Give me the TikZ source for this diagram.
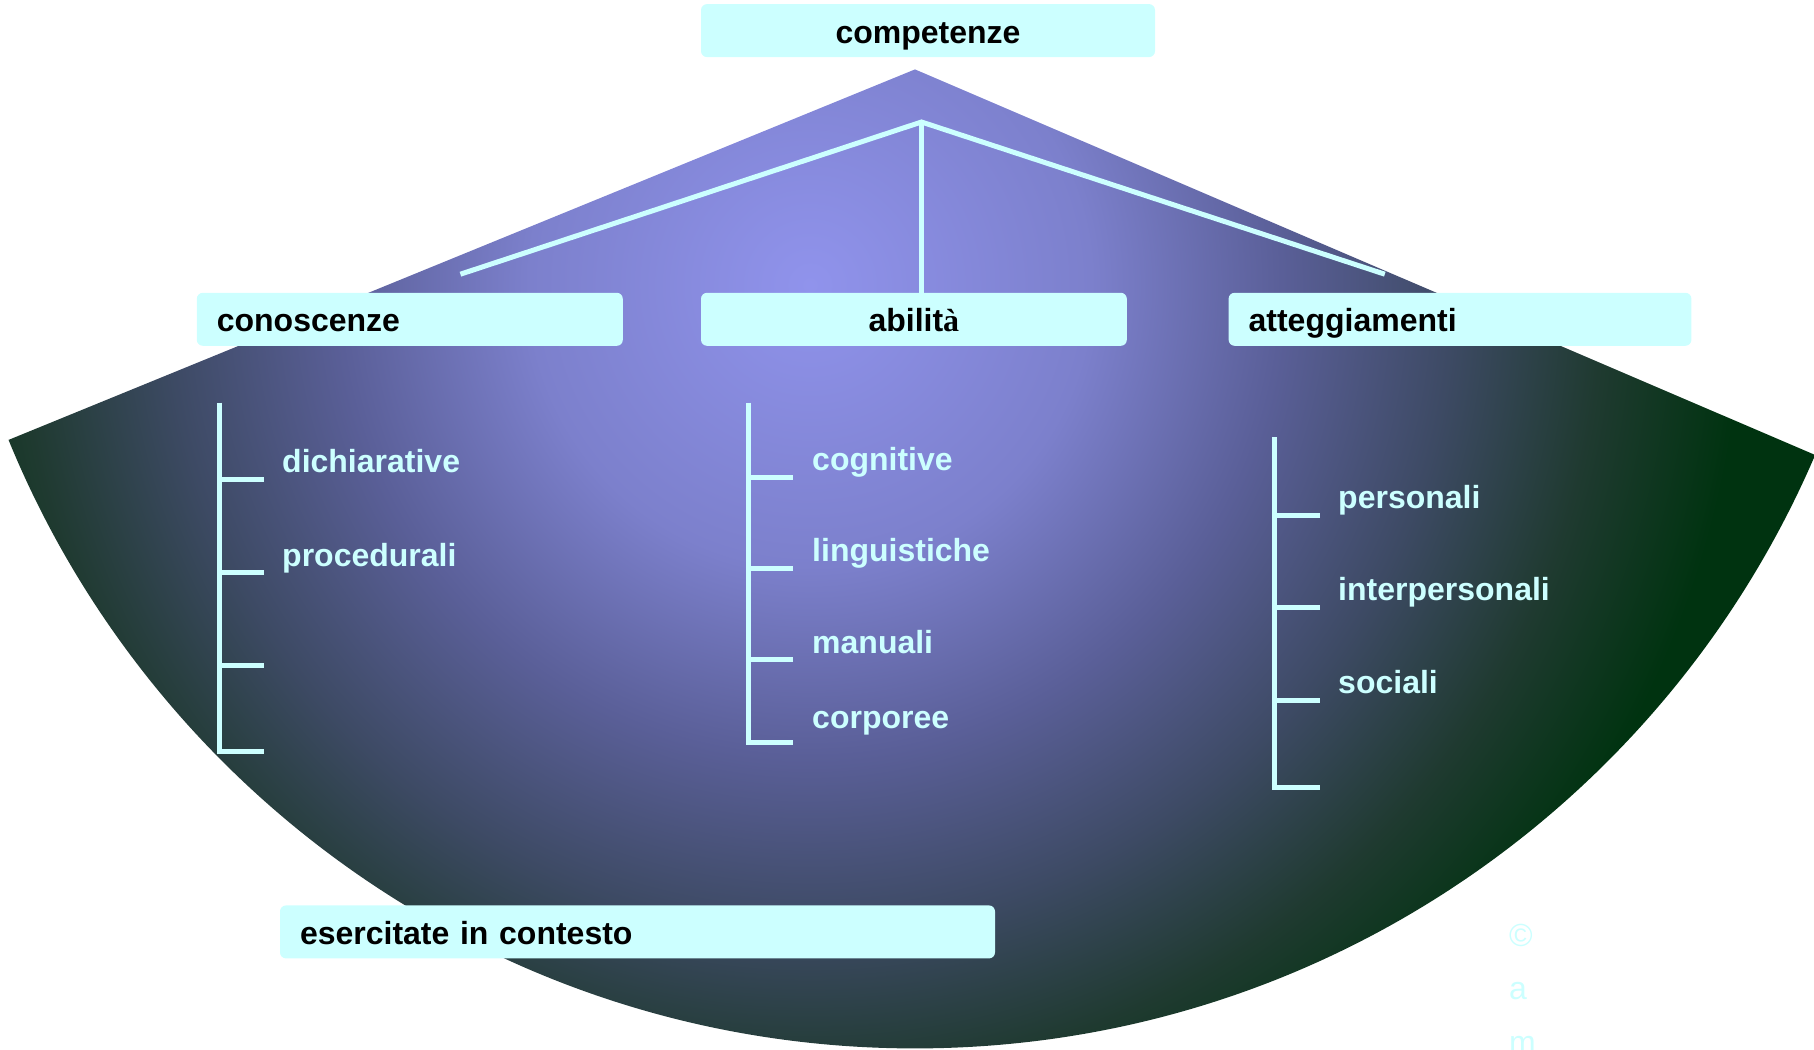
\documentclass[tikz,border=0pt]{standalone}
\usepackage{fontspec}
\setmainfont{Liberation Sans}
\newfontfamily\serifacc{Liberation Serif}
\definecolor{boxc}{HTML}{CCFFFF}
\definecolor{linec}{HTML}{CCFFFF}
\definecolor{fcA}{HTML}{9093EC}
\definecolor{fcB}{HTML}{7C80CC}
\definecolor{fcC}{HTML}{5A5F98}
\definecolor{fcD}{HTML}{3D4A64}
\definecolor{fcE}{HTML}{1F3A30}
\definecolor{fcF}{HTML}{003310}
\pgfdeclareradialshading{fanshade}{\pgfpoint{0bp}{0bp}}{%
  color(0bp)=(fcA); color(280bp)=(fcB); color(470bp)=(fcC);
  color(640bp)=(fcD); color(790bp)=(fcE); color(930bp)=(fcF); color(1200bp)=(fcF)}
\begin{document}
\begin{tikzpicture}[x=1pt,y=-1pt,
  boxs/.style={fill=boxc, rounded corners=6pt, minimum height=53pt, inner ysep=0pt,
    text height=25pt, text depth=0pt, text=black,
    font=\bfseries\fontsize{32}{38}\selectfont},
  boxl/.style={boxs, align=left, inner xsep=20pt, text width=#1},
  lbl/.style={anchor=base west, inner sep=0pt, text=linec,
    font=\bfseries\fontsize{32}{38}\selectfont},
  cpy/.style={anchor=base west, inner sep=0pt, text=linec,
    font=\fontsize{32}{38}\selectfont},
  branch/.style={draw=linec, line width=5pt},
]
\useasboundingbox (0,0) rectangle (1814,1049);

% fan-shaped background (circular sector centred on the apex)
\coordinate (apex) at (915,69.4);
\begin{scope}
  \clip (apex) -- (-896.4,809.8) -- (-896.4,2100) -- (2708.4,2100) -- (2708.4,837.6) -- cycle;
  \clip (apex) circle (979);
  \pgftext[at=\pgfpoint{810pt}{-285pt}]{\pgfuseshading{fanshade}}
\end{scope}

% boxes
\node[boxs, minimum width=454pt] (comp) at (928,30.6) {competenze};
\node[boxl=386pt, minimum width=426pt] (cono) at (409.8,319.3) {conoscenze};
\node[boxs, minimum width=425.8pt] (abil) at (913.9,319.3) {abilit{\serifacc\bfseries à}};
\node[boxl=422.8pt, minimum width=462.8pt] (atte) at (1460,319.3) {atteggiamenti};
\node[boxl=675pt, minimum width=715pt] (eser) at (637.5,931.9) {esercitate in contesto};

% connectors from the hub
\coordinate (hub) at (921.5,122);
\coordinate (lend) at (460.4,274.2);
\coordinate (rend) at (1384.8,274.2);
\draw[branch] (lend) -- (hub) -- (rend);
\draw[branch] (hub) -- (hub |- abil.north);

% conoscenze column
\draw[branch] (219,402.6) -- (219,751) -- (264.3,751);
\foreach \y in {479.3,572.3,665} \draw[branch] (219,\y) -- (264.3,\y);
\node[lbl] (dich) at (282,472.7) {dichiarative};
\node[lbl] (proc) at (282,566) {procedurali};

% abilita column
\draw[branch] (748.5,402.6) -- (748.5,742.7) -- (793.3,742.7);
\foreach \y in {477,568.3,659.3} \draw[branch] (748.5,\y) -- (793.3,\y);
\node[lbl] (cogn) at (812,470.7) {cognitive};
\node[lbl] (ling) at (812,561.7) {linguistiche};
\node[lbl] (manu) at (812,653.3) {manuali};
\node[lbl] (corp) at (812,728.3) {corporee};

% atteggiamenti column
\draw[branch] (1274.9,437.3) -- (1274.9,787) -- (1320,787);
\foreach \y in {515,607.4,700} \draw[branch] (1274.9,\y) -- (1320,\y);
\node[lbl] (pers) at (1338,508.3) {personali};
\node[lbl] (inte) at (1338,600.7) {interpersonali};
\node[lbl] (soci) at (1338,693.2) {sociali};

% copyright letters
\node[cpy] (c1) at (1509,946) {©};
\node[cpy] (c2) at (1509,999.5) {a};
\node[cpy] (c3) at (1509,1053) {m};
\end{tikzpicture}
\end{document}
